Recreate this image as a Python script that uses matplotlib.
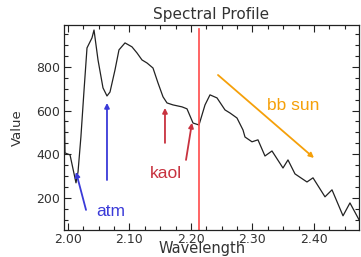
import matplotlib
matplotlib.use("Agg")
import matplotlib.pyplot as plt
from matplotlib.ticker import MultipleLocator

# ---- data ----
wavelength = [1.9943, 1.9951, 2.0033, 2.0130, 2.0163, 2.0210, 2.0260, 2.0309, 2.0390,
              2.0423, 2.0488, 2.0569, 2.0634, 2.0683, 2.0764, 2.0829, 2.0927, 2.1040,
              2.1122, 2.1203, 2.1285, 2.1382, 2.1463, 2.1545, 2.1610, 2.1707, 2.1854,
              2.1935, 2.2033, 2.2130, 2.2228, 2.2309, 2.2423, 2.2553, 2.2634, 2.2748,
              2.2846, 2.2878, 2.2992, 2.3089, 2.3203, 2.3317, 2.3496, 2.3577, 2.3691,
              2.3886, 2.3984, 2.4179, 2.4293, 2.4472, 2.4585, 2.4780]
value = [557, 406, 397, 269, 319, 480, 690, 887, 933,
         969, 832, 704, 667, 685, 786, 878, 910, 892,
         864, 832, 818, 795, 727, 663, 635, 626, 617,
         608, 543, 534, 626, 672, 658, 603, 589, 566,
         511, 479, 457, 466, 392, 415, 337, 374, 310,
         273, 292, 205, 237, 118, 177, 75]

x_ticks = [2.00, 2.10, 2.20, 2.30, 2.40]
x_tick_labels = ["2.00", "2.10", "2.20", "2.30", "2.40"]
y_ticks = [200, 400, 600, 800]
y_tick_labels = ["200", "400", "600", "800"]

marker_wavelength = 2.213
marker_top = 975

annotations = {
    "atm": dict(color="#3a3ad8", text_xy=(2.070, 136),
                arrows=[((2.0293, 145), (2.013, 319)), ((2.0634, 282), (2.0634, 635))]),
    "kaol": dict(color="#c8323f", text_xy=(2.1593, 310),
                 arrows=[((2.1577, 452), (2.1577, 612)), ((2.1919, 374), (2.2016, 544))]),
    "bb sun": dict(color="#f5a00a", text_xy=(2.3659, 621),
                   arrows=[((2.2439, 763), (2.40, 383))]),
}

# ---- figure ----
W, H = 361, 257
fig = plt.figure(figsize=(W / 100, H / 100), dpi=100)
ax = fig.add_axes([64 / W, 1 - 230 / H, 295 / W, 205 / H])

text_color = "#333333"
ax.plot(wavelength, value, color="#222222", lw=0.9)
ax.plot([marker_wavelength, marker_wavelength], [0, marker_top], color="#ff4a4a", lw=1.2)

for label, a in annotations.items():
    for tail, head in a["arrows"]:
        ax.annotate("", xy=head, xytext=tail,
                    arrowprops=dict(arrowstyle="-|>", color=a["color"], lw=1.3,
                                    mutation_scale=7, shrinkA=0, shrinkB=0))
    ax.text(a["text_xy"][0], a["text_xy"][1], label, color=a["color"],
            fontsize=12.5, family="Liberation Sans", ha="center", va="center")

ax.set_xlim(1.9935, 2.4732)
ax.set_ylim(53, 992)

ax.set_xticks(x_ticks)
ax.set_xticklabels(x_tick_labels)
ax.set_yticks(y_ticks)
ax.set_yticklabels(y_tick_labels)
ax.xaxis.set_minor_locator(MultipleLocator(0.025))
ax.yaxis.set_minor_locator(MultipleLocator(50))
ax.tick_params(which="both", direction="in", top=True, right=True,
               labelsize=9, labelcolor=text_color, width=0.8, color="#222222")
ax.tick_params(which="major", length=5, pad=3)
ax.tick_params(axis="x", which="major", pad=2)
ax.tick_params(which="minor", length=3)
for s in ax.spines.values():
    s.set_linewidth(0.9)
    s.set_color("#222222")

ax.set_title("Spectral Profile", fontsize=11, color=text_color, pad=4)
fig.text(202 / W, 1 - 253 / H, "Wavelength", fontsize=10.5, color=text_color,
         ha="center", va="baseline")
fig.text(17 / W, 1 - 128 / H, "Value", fontsize=9.5, color=text_color,
         ha="center", va="center", rotation=90)

fig.savefig("out.png", dpi=100)
